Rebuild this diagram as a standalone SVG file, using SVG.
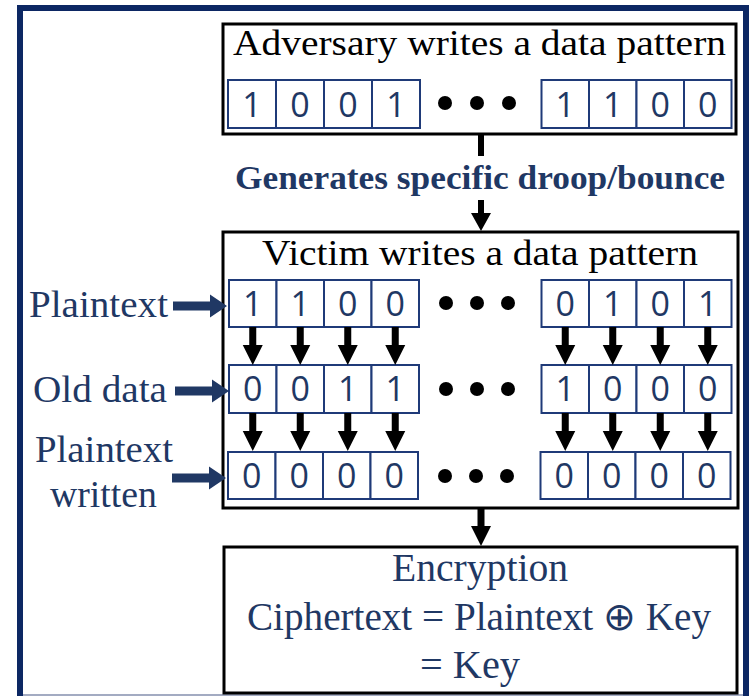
<svg xmlns="http://www.w3.org/2000/svg" xmlns:xlink="http://www.w3.org/1999/xlink" width="749" height="696" viewBox="0 0 749 696">
  <style>
    .box { fill: #ffffff; stroke: #000000; stroke-width: 3; }
    .cell { fill: #ffffff; stroke: #1f3a78; stroke-width: 2; }
    .bit { font-family: "Open Sans", "Noto Sans", sans-serif; font-size: 34px; fill: #1f3864; text-anchor: middle; }
    .title { font-family: "Liberation Serif", "Times New Roman", serif; font-size: 35px; fill: #000000; }
    .label { font-family: "Liberation Serif", "Times New Roman", serif; font-size: 38px; fill: #1f3864; }
    .enc { font-family: "Liberation Serif", "Times New Roman", serif; font-size: 39px; fill: #1f3864; text-anchor: middle; }
    .note { font-family: "Liberation Serif", "Times New Roman", serif; font-size: 33px; font-weight: bold; fill: #1f3864; }
    .dot { fill: #000000; }
  </style>
  <defs>
    <!-- downward block arrow, origin at top centre of the shaft -->
    <path id="down" d="M-3.5,0 H3.5 V18 H10 L0,38 L-10,18 H-3.5 Z" fill="#000000"/>
    <!-- rightward block arrow for side labels, origin at shaft start centre -->
    <path id="right" d="M0,-4.5 H37 V-11.5 L54,0 L37,11.5 V4.5 H0 Z" fill="#203864"/>
  </defs>

  <rect width="749" height="696" fill="#ffffff"/>
  <!-- outer frame -->
  <rect x="20" y="8" width="726" height="720" fill="none" stroke="#0c2763" stroke-width="6"/>
  <line x1="23" y1="695" x2="743" y2="695" stroke="#a3abc2" stroke-width="2"/>

  <!-- adversary pattern -->
  <g id="adversary">
    <rect class="box" x="223" y="24" width="513" height="110"/>
    <text class="title" x="233" y="55" textLength="493" lengthAdjust="spacingAndGlyphs">Adversary writes a data pattern</text>
    <g id="adversary-bits">
      <rect class="cell" x="228" y="80" width="48" height="48"/>
      <rect class="cell" x="276" y="80" width="48" height="48"/>
      <rect class="cell" x="324" y="80" width="48" height="48"/>
      <rect class="cell" x="372" y="80" width="48" height="48"/>
      <text class="bit" x="252" y="117">1</text>
      <text class="bit" x="300" y="117">0</text>
      <text class="bit" x="348" y="117">0</text>
      <text class="bit" x="396" y="117">1</text>
      <circle class="dot" cx="445" cy="103" r="7"/>
      <circle class="dot" cx="477" cy="103" r="7"/>
      <circle class="dot" cx="509" cy="103" r="7"/>
      <rect class="cell" x="541.5" y="80" width="47.5" height="48"/>
      <rect class="cell" x="589" y="80" width="47.5" height="48"/>
      <rect class="cell" x="636.5" y="80" width="47.5" height="48"/>
      <rect class="cell" x="684" y="80" width="47.5" height="48"/>
      <text class="bit" x="565.25" y="117">1</text>
      <text class="bit" x="612.75" y="117">1</text>
      <text class="bit" x="660.25" y="117">0</text>
      <text class="bit" x="707.75" y="117">0</text>
    </g>
  </g>

  <!-- victim pattern -->
  <g id="victim">
    <rect class="box" x="223" y="232" width="515" height="276"/>
    <text class="title" x="262" y="265" textLength="436" lengthAdjust="spacingAndGlyphs">Victim writes a data pattern</text>
    <g id="row-plaintext">
      <rect class="cell" x="229" y="280" width="47.5" height="47"/>
      <rect class="cell" x="276.5" y="280" width="47.5" height="47"/>
      <rect class="cell" x="324" y="280" width="47.5" height="47"/>
      <rect class="cell" x="371.5" y="280" width="47.5" height="47"/>
      <text class="bit" x="252.75" y="316">1</text>
      <text class="bit" x="300.25" y="316">1</text>
      <text class="bit" x="347.75" y="316">0</text>
      <text class="bit" x="395.25" y="316">0</text>
      <circle class="dot" cx="446" cy="303" r="7"/>
      <circle class="dot" cx="477" cy="303" r="7"/>
      <circle class="dot" cx="508" cy="303" r="7"/>
      <rect class="cell" x="541.5" y="280" width="47.5" height="47"/>
      <rect class="cell" x="589" y="280" width="47.5" height="47"/>
      <rect class="cell" x="636.5" y="280" width="47.5" height="47"/>
      <rect class="cell" x="684" y="280" width="47.5" height="47"/>
      <text class="bit" x="565.25" y="316">0</text>
      <text class="bit" x="612.75" y="316">1</text>
      <text class="bit" x="660.25" y="316">0</text>
      <text class="bit" x="707.75" y="316">1</text>
    </g>
    <g id="row-old">
      <rect class="cell" x="229" y="365" width="47.5" height="48"/>
      <rect class="cell" x="276.5" y="365" width="47.5" height="48"/>
      <rect class="cell" x="324" y="365" width="47.5" height="48"/>
      <rect class="cell" x="371.5" y="365" width="47.5" height="48"/>
      <text class="bit" x="252.75" y="401">0</text>
      <text class="bit" x="300.25" y="401">0</text>
      <text class="bit" x="347.75" y="401">1</text>
      <text class="bit" x="395.25" y="401">1</text>
      <circle class="dot" cx="446" cy="389" r="7"/>
      <circle class="dot" cx="477" cy="389" r="7"/>
      <circle class="dot" cx="508" cy="389" r="7"/>
      <rect class="cell" x="541.5" y="365" width="47.5" height="48"/>
      <rect class="cell" x="589" y="365" width="47.5" height="48"/>
      <rect class="cell" x="636.5" y="365" width="47.5" height="48"/>
      <rect class="cell" x="684" y="365" width="47.5" height="48"/>
      <text class="bit" x="565.25" y="401">1</text>
      <text class="bit" x="612.75" y="401">0</text>
      <text class="bit" x="660.25" y="401">0</text>
      <text class="bit" x="707.75" y="401">0</text>
    </g>
    <g id="row-written">
      <rect class="cell" x="228" y="452" width="47.5" height="47"/>
      <rect class="cell" x="275.5" y="452" width="47.5" height="47"/>
      <rect class="cell" x="323" y="452" width="47.5" height="47"/>
      <rect class="cell" x="370.5" y="452" width="47.5" height="47"/>
      <text class="bit" x="251.75" y="488">0</text>
      <text class="bit" x="299.25" y="488">0</text>
      <text class="bit" x="346.75" y="488">0</text>
      <text class="bit" x="394.25" y="488">0</text>
      <circle class="dot" cx="445" cy="476" r="7"/>
      <circle class="dot" cx="476" cy="476" r="7"/>
      <circle class="dot" cx="507" cy="476" r="7"/>
      <rect class="cell" x="540.5" y="452" width="47.5" height="47"/>
      <rect class="cell" x="588" y="452" width="47.5" height="47"/>
      <rect class="cell" x="635.5" y="452" width="47.5" height="47"/>
      <rect class="cell" x="683" y="452" width="47.5" height="47"/>
      <text class="bit" x="564.25" y="488">0</text>
      <text class="bit" x="611.75" y="488">0</text>
      <text class="bit" x="659.25" y="488">0</text>
      <text class="bit" x="706.75" y="488">0</text>
    </g>
  </g>

  <!-- encryption result -->
  <g id="encryption">
    <rect class="box" x="224" y="547" width="513" height="146"/>
    <text class="enc" x="480" y="581" textLength="176" lengthAdjust="spacingAndGlyphs">Encryption</text>
    <text class="enc" x="479" y="630" textLength="464" lengthAdjust="spacingAndGlyphs">Ciphertext = Plaintext ⊕ Key</text>
    <text class="enc" x="470" y="678" textLength="100" lengthAdjust="spacingAndGlyphs">= Key</text>
  </g>

  <!-- side labels -->
  <g id="label-plaintext">
    <text class="label" x="29" y="317" textLength="139" lengthAdjust="spacingAndGlyphs">Plaintext</text>
  </g>
  <g id="label-old">
    <text class="label" x="33" y="402" textLength="134" lengthAdjust="spacingAndGlyphs">Old data</text>
  </g>
  <g id="label-written">
    <text class="label" x="35" y="462" textLength="138" lengthAdjust="spacingAndGlyphs">Plaintext</text>
    <text class="label" x="50" y="507" textLength="107" lengthAdjust="spacingAndGlyphs">written</text>
  </g>

  <g id="connectors">
    <!-- adversary to victim, with the droop/bounce note between -->
    <rect x="478" y="134" width="6" height="22" fill="#000000"/>
    <text class="note" x="235" y="189" textLength="490" lengthAdjust="spacingAndGlyphs">Generates specific droop/bounce</text>
    <path d="M478,200 H484 V213 H491 L481,231 L471,213 H478 Z" fill="#000000"/>
    <!-- victim to encryption -->
    <path d="M477.5,508 H484.5 V526 H491 L481,546 L471,526 H477.5 Z" fill="#000000"/>

    <!-- side label arrows -->
    <use xlink:href="#right" x="173" y="306"/>
    <use xlink:href="#right" x="175" y="391"/>
    <use xlink:href="#right" x="172" y="478"/>

    <!-- plaintext row to old data row -->
    <use xlink:href="#down" x="252.75" y="327"/>
    <use xlink:href="#down" x="300.25" y="327"/>
    <use xlink:href="#down" x="347.75" y="327"/>
    <use xlink:href="#down" x="395.25" y="327"/>
    <use xlink:href="#down" x="565.25" y="327"/>
    <use xlink:href="#down" x="612.75" y="327"/>
    <use xlink:href="#down" x="660.25" y="327"/>
    <use xlink:href="#down" x="707.75" y="327"/>
    <!-- old data row to written row -->
    <use xlink:href="#down" x="252.75" y="413"/>
    <use xlink:href="#down" x="300.25" y="413"/>
    <use xlink:href="#down" x="347.75" y="413"/>
    <use xlink:href="#down" x="395.25" y="413"/>
    <use xlink:href="#down" x="565.25" y="413"/>
    <use xlink:href="#down" x="612.75" y="413"/>
    <use xlink:href="#down" x="660.25" y="413"/>
    <use xlink:href="#down" x="707.75" y="413"/>
  </g>
</svg>
